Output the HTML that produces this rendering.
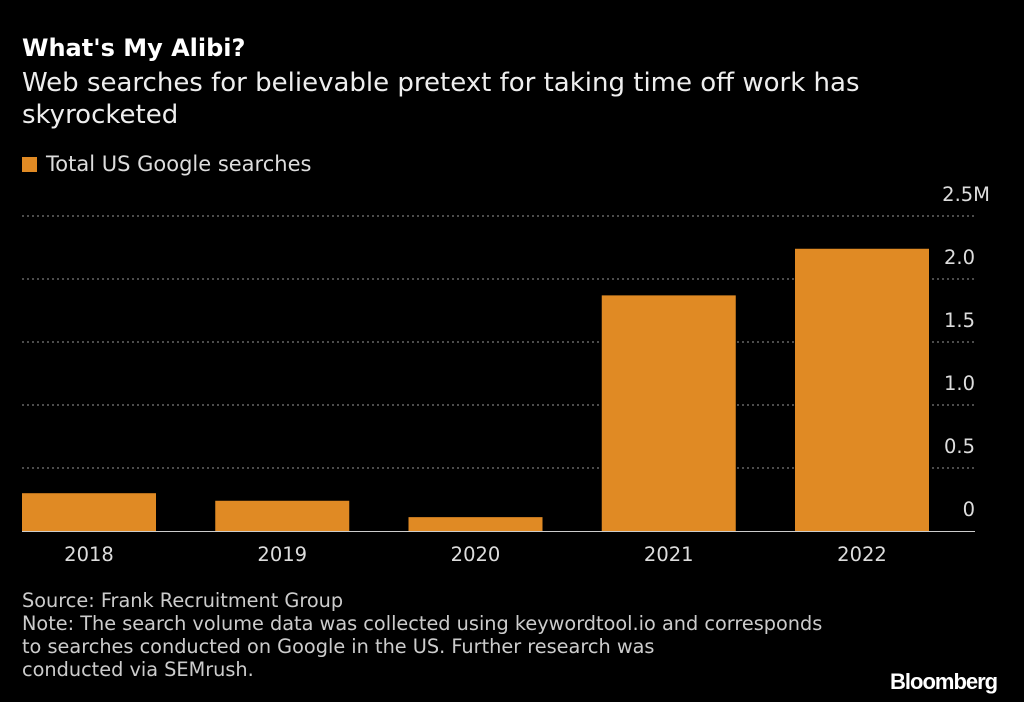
<!DOCTYPE html>
<html><head><meta charset="utf-8"><style>
body{margin:0;background:#000;width:1024px;height:702px;overflow:hidden;font-family:"DejaVu Sans",sans-serif;color:#fff;position:relative}
.t{position:absolute;white-space:nowrap}
</style></head><body>
<div class="t" style="left:22px;top:34px;font-size:24px;font-weight:bold">What's My Alibi?</div>
<div class="t" style="left:22px;top:67px;font-size:26px;line-height:32px;color:#eee">Web searches for believable pretext for taking time off work has<br>skyrocketed</div>
<div style="position:absolute;left:22px;top:157px;width:15px;height:15px;background:#e08a24"></div>
<div class="t" style="left:46px;top:152px;font-size:21px;color:#ddd">Total US Google searches</div>
<svg id="c" width="1024" height="702" style="position:absolute;left:0;top:0"></svg>
<div class="t" style="left:22px;top:589px;font-size:19.3px;line-height:23px;color:#ccc">Source: Frank Recruitment Group<br>Note: The search volume data was collected using keywordtool.io and corresponds<br>to searches conducted on Google in the US. Further research was<br>conducted via SEMrush.</div>
<div class="t" style="left:890px;top:669px;font-size:22px;font-weight:bold;letter-spacing:-1px;font-family:'Liberation Sans',sans-serif">Bloomberg</div>
<script>
const categories=["2018","2019","2020","2021","2022"];
const values=[0.30,0.24,0.11,1.87,2.24];
const ticks=[0,0.5,1.0,1.5,2.0,2.5];
const tickLabels=["0","0.5","1.0","1.5","2.0","2.5M"];
const svg=document.getElementById('c');const NS="http://www.w3.org/2000/svg";
const y=v=>531-v*126;const x=i=>22+i*193.25;
function mk(t,a){const e=document.createElementNS(NS,t);for(const k in a)e.setAttribute(k,a[k]);svg.appendChild(e);return e;}
ticks.forEach((t,i)=>{
 if(t>0){const g=mk('line',{x1:22,x2:974,y1:y(t),y2:y(t),stroke:'#999','stroke-dasharray':'2,3','stroke-width':1});
 
 }
 const l=mk('text',{x:i==5?990:975,y:y(t)-15,'text-anchor':'end','font-size':19.5,fill:'#ddd','font-family':'DejaVu Sans'});
 l.textContent=tickLabels[i];
 
 
});
values.forEach((v,i)=>{
 const b=mk('rect',{x:x(i),y:y(v),width:134,height:531-y(v),fill:'#e08a24'});
 
 
 const l=mk('text',{x:x(i)+67,y:561,'text-anchor':'middle','font-size':19.5,fill:'#ddd','font-family':'DejaVu Sans'});
 l.textContent=categories[i];
 
 
});
const ax=mk('line',{x1:22,x2:975,y1:531.5,y2:531.5,stroke:'#ccc','stroke-width':1});


</script>
</body></html>
